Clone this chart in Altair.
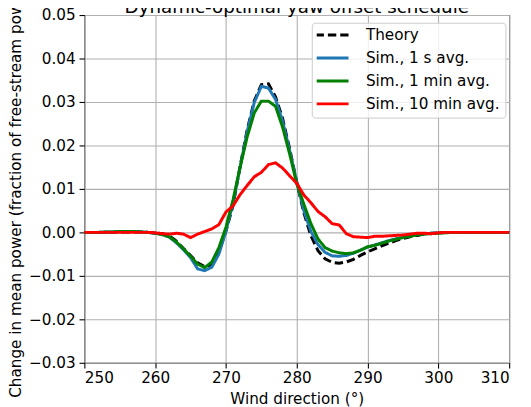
import altair as alt
import pandas as pd

wind_dir = list(range(250, 311))

theory = [0, 0, 0, 0, 0, 0.0001, 0.0001, 0.0001, 0.0001, 0,
          -0.0001, -0.0003, -0.0008, -0.002, -0.0037, -0.0053, -0.007, -0.0079, -0.0074, -0.0045,
          0.0003, 0.0062, 0.0152, 0.0236, 0.0303, 0.0340, 0.0342, 0.0312, 0.0262, 0.0192,
          0.0115, 0.0045, -0.0008, -0.0042, -0.0061, -0.0069, -0.0071, -0.0068, -0.0062, -0.0053,
          -0.0045, -0.0038, -0.0031, -0.0025, -0.0019, -0.0014, -0.001, -0.0007, -0.0004, -0.0002,
          -0.0001, 0, 0, 0, 0, 0, 0, 0, 0, 0, 0]

sim_1s = [0, 0, 0, 0.0001, 0.0001, 0.0002, 0.0002, 0.0002, 0.0001, 0,
          -0.0002, -0.0005, -0.0011, -0.0024, -0.0040, -0.0058, -0.0084, -0.0088, -0.0080, -0.0050,
          0.0003, 0.0068, 0.0150, 0.0232, 0.0299, 0.0336, 0.0332, 0.0306, 0.0256, 0.0188,
          0.0116, 0.0050, 0.0002, -0.0028, -0.0046, -0.0054, -0.0055, -0.0053, -0.0048, -0.0041,
          -0.0034, -0.0029, -0.0024, -0.0019, -0.0015, -0.0011, -0.0008, -0.0005, -0.0003, -0.0002,
          -0.0001, 0, 0, 0, 0, 0, 0, 0, 0, 0, 0]

sim_1min = [0, 0, 0, 0.0001, 0.0001, 0.0002, 0.0002, 0.0002, 0.0001, 0,
            -0.0002, -0.0005, -0.0010, -0.0022, -0.0038, -0.0055, -0.0073, -0.0081, -0.0068, -0.0035,
            0.0012, 0.0075, 0.0150, 0.0220, 0.0275, 0.0302, 0.0302, 0.0290, 0.0242, 0.0180,
            0.0112, 0.0065, 0.0020, -0.0015, -0.0035, -0.0043, -0.0047, -0.0049, -0.0047, -0.0041,
            -0.0033, -0.0030, -0.0025, -0.0020, -0.0016, -0.0012, -0.0009, -0.0006, -0.0004, -0.0003,
            -0.0002, -0.0001, 0, 0, 0, 0, 0, 0, 0, 0, 0]

sim_10min = [0, 0, 0, 0, 0, 0, 0, 0, 0, 0,
             -0.0001, -0.0003, -0.0004, -0.0002, -0.0004, -0.0012, -0.0004, 0.0002, 0.0008, 0.0018,
             0.0047, 0.0061, 0.0087, 0.0108, 0.0128, 0.0138, 0.0156, 0.0160, 0.0148, 0.0130,
             0.0113, 0.0086, 0.0068, 0.0048, 0.0036, 0.0020, 0.0017, -0.0003, -0.0010, -0.0011,
             -0.0012, -0.0009, -0.0009, -0.0008, -0.0007, -0.0006, -0.0004, -0.0002, -0.0002, -0.0003,
             -0.0001, 0, 0, 0, 0, 0, 0, 0, 0, 0, 0]

series_names = ["Theory", "Sim., 1 s avg.", "Sim., 1 min avg.", "Sim., 10 min avg."]
series_values = [theory, sim_1s, sim_1min, sim_10min]
series_colors = ["#000000", "#1f77b4", "#008000", "#ff0000"]
series_dashes = [[8.5, 4], [1, 0], [1, 0], [1, 0]]

chart_title = ["Dynamic-optimal yaw offset schedule"]

x_ticks = [250, 260, 270, 280, 290, 300, 310]
y_ticks = [-0.03, -0.02, -0.01, 0.0, 0.01, 0.02, 0.03, 0.04, 0.05]

rows = []
for name, vals in zip(series_names, series_values):
    assert len(vals) == len(wind_dir), name
    for d, v in zip(wind_dir, vals):
        rows.append({"dir": d, "val": v, "series": name})
df = pd.DataFrame(rows)

FONT = "DejaVu Sans"
FS = 15.4
PLOT_W, PLOT_H = 430, 352

legend = alt.Legend(
    title=None, orient="none", legendX=230.2, legendY=7.8,
    symbolType="stroke", symbolSize=1115, symbolStrokeWidth=3, symbolOffset=-3,
    labelOffset=15.8, labelFont=FONT, labelFontSize=FS,
    labelColor="black", labelLimit=300, padding=5, rowPadding=7.2, clipHeight=15,
    fillColor="rgba(255,255,255,0.8)", strokeColor="#cccccc", cornerRadius=3,
)

base = alt.Chart(df).mark_line(strokeWidth=3).encode(
    x=alt.X("dir:Q", scale=alt.Scale(domain=[250, 310], nice=False),
            axis=alt.Axis(values=x_ticks, title="Wind direction (°)", labelPadding=2.3,
                          titleY=29.5, titleBaseline="top")),
    y=alt.Y("val:Q", scale=alt.Scale(domain=[-0.03, 0.05], nice=False, zero=False),
            axis=alt.Axis(values=y_ticks, format=".2f", labelPadding=3.9,
                          title="Change in mean power (fraction of free-stream power)",
                          titleX=-62, titleY=176, titleBaseline="bottom", titleAngle=270)),
    color=alt.Color("series:N", scale=alt.Scale(domain=series_names, range=series_colors),
                    legend=legend),
    strokeDash=alt.StrokeDash("series:N", scale=alt.Scale(domain=series_names, range=series_dashes),
                              legend=legend),
)

layers = [base.transform_filter(alt.datum.series == name) for name in series_names]

title_layer = alt.Chart(pd.DataFrame({"t": chart_title})).mark_text(
    font=FONT, fontSize=18.5, color="black", align="center", baseline="alphabetic"
).encode(
    text="t:N", x=alt.value(PLOT_W / 2), y=alt.value(-2.5)
)

chart = alt.layer(*layers, title_layer).properties(
    width=PLOT_W, height=PLOT_H,
    padding={"left": 77.3, "top": 4.7, "right": 14, "bottom": 42},
    autosize=alt.AutoSizeParams(type="none"),
).configure_view(
    stroke="black", strokeWidth=1.1
).configure_axis(
    domain=False, grid=True, gridColor="#b0b0b0", gridWidth=1.1,
    ticks=True, tickColor="black", tickSize=5.4, tickWidth=1.1,
    labelFont=FONT, labelFontSize=FS, labelColor="black",
    titleFont=FONT, titleFontSize=FS, titleColor="black", titleFontWeight="normal",
)

chart.save("out.html", embed_options={"renderer": "svg", "actions": False})
